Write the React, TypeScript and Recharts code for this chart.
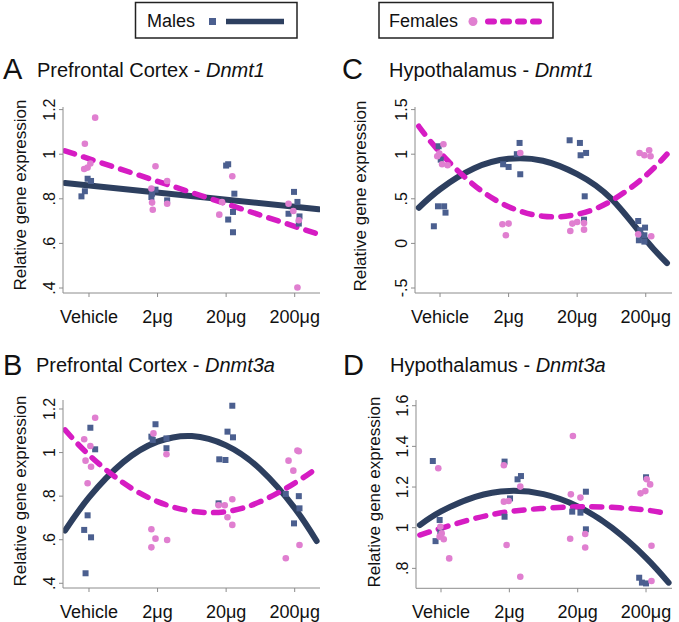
import React from 'react';
import { ComposedChart, Scatter, Line, XAxis, YAxis } from 'recharts';

const doseTicks = [0, 1, 2, 3];
const doseLabels = ['Vehicle', '2\u03bcg', '20\u03bcg', '200\u03bcg'];

// Panel A: Prefrontal Cortex - Dnmt1
const aTicks = [0.4, 0.6, 0.8, 1, 1.2];
const aMales = [
  [-0.11, 0.811], [-0.06, 0.834], [-0.02, 0.89], [0.03, 0.88],
  [0.91, 0.808], [0.92, 0.823], [0.97, 0.841], [1.14, 0.793],
  [2.0, 0.949], [2.03, 0.955], [2.03, 0.707], [2.1, 0.741], [2.1, 0.65], [2.12, 0.823],
  [2.99, 0.831], [2.91, 0.733], [3.04, 0.786], [3.07, 0.721], [3.06, 0.689],
];
const aFemales = [
  [-0.06, 1.047], [0.09, 1.164], [-0.07, 0.934], [-0.02, 0.94], [0.02, 0.958],
  [0.97, 0.946], [1.14, 0.88], [0.91, 0.846], [0.92, 0.783], [0.93, 0.751], [1.14, 0.778],
  [2.09, 0.901], [1.9, 0.729], [1.94, 0.786],
  [2.91, 0.778], [2.98, 0.745], [3.06, 0.704], [3.04, 0.402],
];
const aMaleFit = [[-0.35, 0.871], [3.35, 0.753]];
const aFemaleFit = [[-0.35, 1.015], [3.35, 0.641]];

// Panel B: Prefrontal Cortex - Dnmt3a
const bTicks = [0.4, 0.6, 0.8, 1, 1.2];
const bMales = [
  [0.02, 1.114], [0.09, 1.015], [-0.02, 0.712], [-0.07, 0.645], [0.03, 0.611], [-0.05, 0.446],
  [0.97, 1.13], [0.91, 1.073], [0.93, 1.058], [1.13, 1.065], [1.13, 1.02],
  [2.09, 1.215], [2.02, 1.096], [2.1, 1.07], [1.9, 0.969], [1.99, 0.966], [1.89, 0.767],
  [2.87, 0.81], [2.99, 0.675], [3.06, 0.8], [3.07, 0.744],
];
const bFemales = [
  [-0.07, 1.061], [0.09, 1.16], [-0.05, 0.963], [0.02, 1.03], [0.03, 0.935], [-0.02, 0.859],
  [0.94, 1.088], [1.13, 0.992], [0.91, 0.648], [0.97, 0.605], [1.14, 0.599], [0.91, 0.565],
  [1.89, 0.758], [1.98, 0.758], [2.09, 0.786], [2.02, 0.703], [2.09, 0.668],
  [2.91, 0.963], [2.98, 0.917], [3.04, 1.009], [3.06, 1.006], [2.87, 0.515], [3.07, 0.576],
];
const bMaleFit = [[-0.35, 0.642], [0, 0.794], [0.5, 0.956], [1, 1.05], [1.5, 1.076], [2, 1.033], [2.5, 0.923], [3, 0.745], [3.32, 0.594]];
const bFemaleFit = [[-0.35, 1.104], [0, 0.989], [0.5, 0.861], [1, 0.775], [1.5, 0.731], [2, 0.729], [2.5, 0.775], [3, 0.86], [3.34, 0.932]];

// Panel C: Hypothalamus - Dnmt1
const cTicks = [-0.5, 0, 0.5, 1, 1.5];
const cMales = [
  [-0.09, 0.192], [-0.03, 0.416], [0.06, 0.416], [0.08, 0.345], [-0.02, 1.089], [0.01, 0.939],
  [0.92, 0.887], [1.0, 0.857], [1.16, 1.126], [1.12, 1.0], [1.17, 0.775],
  [1.89, 1.156], [2.04, 1.126], [2.05, 0.988], [2.13, 1.014], [2.11, 0.528], [2.1, 0.266],
  [2.89, 0.251], [2.92, 0.147], [2.98, 0.091], [2.99, 0.177], [2.9, 0.035], [2.98, 0.02],
];
const cFemales = [
  [-0.04, 0.977], [0.05, 1.111], [-0.01, 1.007], [0.03, 0.887], [0.11, 0.876],
  [0.91, 0.214], [0.96, 0.091], [1.0, 0.222], [1.17, 1.014],
  [1.9, 0.139], [1.93, 0.222], [2.0, 0.24], [2.1, 0.229], [2.1, 0.154],
  [2.91, 1.014], [2.98, 0.988], [3.05, 1.044], [3.07, 0.977], [2.89, 0.102], [3.08, 0.08],
];
const cMaleFit = [[-0.31, 0.4], [0, 0.607], [0.5, 0.842], [1, 0.948], [1.5, 0.926], [2, 0.776], [2.5, 0.498], [3, 0.04], [3.31, -0.22]];
const cFemaleFit = [[-0.31, 1.313], [0, 1.019], [0.5, 0.651], [1, 0.412], [1.5, 0.304], [2, 0.326], [2.5, 0.478], [3, 0.76], [3.31, 1.0]];

// Panel D: Hypothalamus - Dnmt3a
const dTicks = [0.8, 1, 1.2, 1.4, 1.6];
const dMales = [
  [-0.12, 1.328], [-0.02, 1.038], [-0.08, 0.934], [-0.01, 0.98],
  [0.93, 1.325], [1.01, 1.144], [1.12, 1.238], [1.17, 1.254], [0.93, 1.054],
  [1.92, 1.079], [2.04, 1.074], [2.12, 1.177], [2.12, 0.992],
  [2.9, 0.754], [2.94, 0.73], [3.0, 0.726], [3.0, 1.248],
];
const dFemales = [
  [-0.04, 1.292], [-0.01, 1.005], [0.04, 0.943], [-0.02, 0.956], [0.12, 0.849], [0.01, 0.972],
  [0.92, 1.307], [0.92, 1.128], [0.96, 0.915], [1.16, 0.759], [1.16, 1.202], [0.99, 1.131],
  [1.93, 1.451], [1.9, 1.164], [2.04, 1.148], [1.89, 0.946], [2.11, 0.969], [2.11, 0.903],
  [2.92, 1.169], [2.99, 1.18], [3.06, 1.213], [3.01, 1.238], [3.08, 0.911], [3.08, 0.738],
];
const dMaleFit = [[-0.31, 1.013], [0, 1.08], [0.5, 1.152], [1, 1.181], [1.5, 1.165], [2, 1.105], [2.5, 1.0], [3, 0.852], [3.33, 0.73]];
const dFemaleFit = [[-0.31, 0.964], [0, 0.997], [0.5, 1.046], [1, 1.079], [1.5, 1.095], [2, 1.103], [2.5, 1.1], [3, 1.087], [3.33, 1.067]];

const toXY = (arr: number[][]) => arr.map(([x, y]) => ({ x, y }));

const NAVY_LINE = '#2d3f5f';
const NAVY_PT = '#4b5f8f';
const PINK_PT = '#e07fd0';
const MAGENTA = '#d61cc3';
const AXIS = '#8c8c8c';
const FONT = '"Liberation Sans", Arial, Helvetica, sans-serif';

const YW = 50;
const MT = 20;
const MR = 5;
const XH = 45;

const fmt = (v: number) => {
  const s = String(v);
  return s.replace(/^0\./, '.').replace(/^-0\./, '-.');
};

const squareShape = (p: any) => (
  <rect x={p.cx - 3} y={p.cy - 3} width={6} height={6} fill={NAVY_PT} />
);
const circleShape = (p: any) => (
  <circle cx={p.cx} cy={p.cy} r={3.3} fill={PINK_PT} />
);

type PanelProps = {
  axisX: number;
  plotRight: number;
  plotTop: number;
  plotBottom: number;
  xDomain: [number, number];
  yDomain: [number, number];
  yTicks: number[];
  males: number[][];
  females: number[][];
  maleFit: number[][];
  femaleFit: number[][];
  fitType: 'linear' | 'natural';
};

function Panel(props: PanelProps) {
  const { axisX, plotRight, plotTop, plotBottom, xDomain, yDomain, yTicks, males, females, maleFit, femaleFit, fitType } = props;
  const plotW = plotRight - axisX;
  const plotH = plotBottom - plotTop;
  const width = YW + plotW + MR;
  const height = MT + plotH + XH;
  const left = axisX - YW;
  const top = plotTop - MT;
  const axisYsvg = MT + plotH;
  return (
    <div style={{ position: 'absolute', left, top, width, height }}>
      <ComposedChart width={width} height={height} margin={{ top: MT, right: MR, left: 0, bottom: 0 }}>
        <XAxis
          type="number"
          dataKey="x"
          domain={xDomain}
          ticks={doseTicks}
          allowDataOverflow
          interval={0}
          height={XH}
          stroke={AXIS}
          tickLine={{ stroke: AXIS }}
          tickSize={4}
          tick={(p: any) => (
            <text x={p.x} y={axisYsvg + 29.5} textAnchor="middle" fontSize={18} fill="#111" fontFamily={FONT}>
              {doseLabels[p.payload.value]}
            </text>
          )}
        />
        <YAxis
          type="number"
          dataKey="y"
          domain={yDomain}
          ticks={yTicks}
          allowDataOverflow
          interval={0}
          width={YW}
          stroke={AXIS}
          tickLine={{ stroke: AXIS }}
          tickSize={4}
          tick={(p: any) => (
            <text
              transform={`translate(${YW - 8},${p.y}) rotate(-90)`}
              textAnchor="middle"
              fontSize={16}
              fill="#111"
              fontFamily={FONT}
            >
              {fmt(p.payload.value)}
            </text>
          )}
        />
        <Scatter data={toXY(males)} shape={squareShape} isAnimationActive={false} />
        <Scatter data={toXY(females)} shape={circleShape} isAnimationActive={false} />
        <Line
          data={toXY(maleFit)}
          dataKey="y"
          type={fitType}
          stroke={NAVY_LINE}
          strokeWidth={6}
          strokeLinecap="round"
          dot={false}
          activeDot={false}
          isAnimationActive={false}
        />
        <Line
          data={toXY(femaleFit)}
          dataKey="y"
          type={fitType}
          stroke={MAGENTA}
          strokeWidth={5.5}
          strokeDasharray="10 9.5"
          strokeLinecap="round"
          dot={false}
          activeDot={false}
          isAnimationActive={false}
        />
      </ComposedChart>
    </div>
  );
}

function Overlay() {
  const t = { fontFamily: FONT, fill: '#111' };
  return (
    <svg width={679} height={622} style={{ position: 'absolute', left: 0, top: 0, pointerEvents: 'none' }}>
      {/* Legend */}
      <rect x={135.5} y={2.5} width={161.5} height={35.5} fill="none" stroke="#222" strokeWidth={1.5} />
      <text x={147} y={27} fontSize={18} {...t}>Males</text>
      <rect x={209} y={18} width={7} height={7} fill={NAVY_PT} />
      <line x1={226} y1={21.5} x2={284} y2={21.5} stroke={NAVY_LINE} strokeWidth={5.5} />
      <rect x={379} y={2.5} width={174} height={35.5} fill="none" stroke="#222" strokeWidth={1.5} />
      <text x={389} y={27} fontSize={18} {...t}>Females</text>
      <circle cx={473} cy={21.5} r={4.5} fill={PINK_PT} />
      <line x1={488} y1={21.5} x2={539} y2={21.5} stroke={MAGENTA} strokeWidth={6} strokeDasharray="6 9" strokeLinecap="round" />

      {/* Titles */}
      <text x={3} y={78.5} fontSize={29} {...t}>A</text>
      <text x={37} y={76.7} fontSize={20} {...t}>Prefrontal Cortex - <tspan fontStyle="italic">Dnmt1</tspan></text>
      <text x={342} y={78.5} fontSize={29} {...t}>C</text>
      <text x={389} y={77} fontSize={20} {...t}>Hypothalamus - <tspan fontStyle="italic">Dnmt1</tspan></text>
      <text x={3} y={375} fontSize={29} {...t}>B</text>
      <text x={36} y={371.7} fontSize={20} {...t}>Prefrontal Cortex - <tspan fontStyle="italic">Dnmt3a</tspan></text>
      <text x={343} y={375} fontSize={29} {...t}>D</text>
      <text x={390} y={371.7} fontSize={20} {...t}>Hypothalamus - <tspan fontStyle="italic">Dnmt3a</tspan></text>

      {/* Y axis titles */}
      <text transform="translate(25.5,195) rotate(-90)" textAnchor="middle" fontSize={17} {...t}>Relative gene expression</text>
      <text transform="translate(25.5,491) rotate(-90)" textAnchor="middle" fontSize={17} {...t}>Relative gene expression</text>
      <text transform="translate(366,196) rotate(-90)" textAnchor="middle" fontSize={17} {...t}>Relative gene expression</text>
      <text transform="translate(380,492) rotate(-90)" textAnchor="middle" fontSize={17} {...t}>Relative gene expression</text>
    </svg>
  );
}

export default function App() {
  return (
    <div style={{ position: 'absolute', left: 0, top: 0, width: 679, height: 622, background: '#fff', overflow: 'hidden' }}>
      <Panel
        axisX={63} plotRight={320} plotTop={106.7} plotBottom={292.7}
        xDomain={[-0.379, 3.369]} yDomain={[0.3776, 1.2117]} yTicks={aTicks}
        males={aMales} females={aFemales} maleFit={aMaleFit} femaleFit={aFemaleFit} fitType="linear"
      />
      <Panel
        axisX={63} plotRight={320} plotTop={400} plotBottom={588}
        xDomain={[-0.379, 3.369]} yDomain={[0.3784, 1.2413]} yTicks={bTicks}
        males={bMales} females={bFemales} maleFit={bMaleFit} femaleFit={bFemaleFit} fitType="natural"
      />
      <Panel
        axisX={415} plotRight={672} plotTop={106.7} plotBottom={292.7}
        xDomain={[-0.365, 3.383]} yDomain={[-0.556, 1.529]} yTicks={cTicks}
        males={cMales} females={cFemales} maleFit={cMaleFit} femaleFit={cFemaleFit} fitType="natural"
      />
      <Panel
        axisX={416} plotRight={672} plotTop={400} plotBottom={588.3}
        xDomain={[-0.366, 3.38]} yDomain={[0.702, 1.628]} yTicks={dTicks}
        males={dMales} females={dFemales} maleFit={dMaleFit} femaleFit={dFemaleFit} fitType="natural"
      />
      <Overlay />
    </div>
  );
}
